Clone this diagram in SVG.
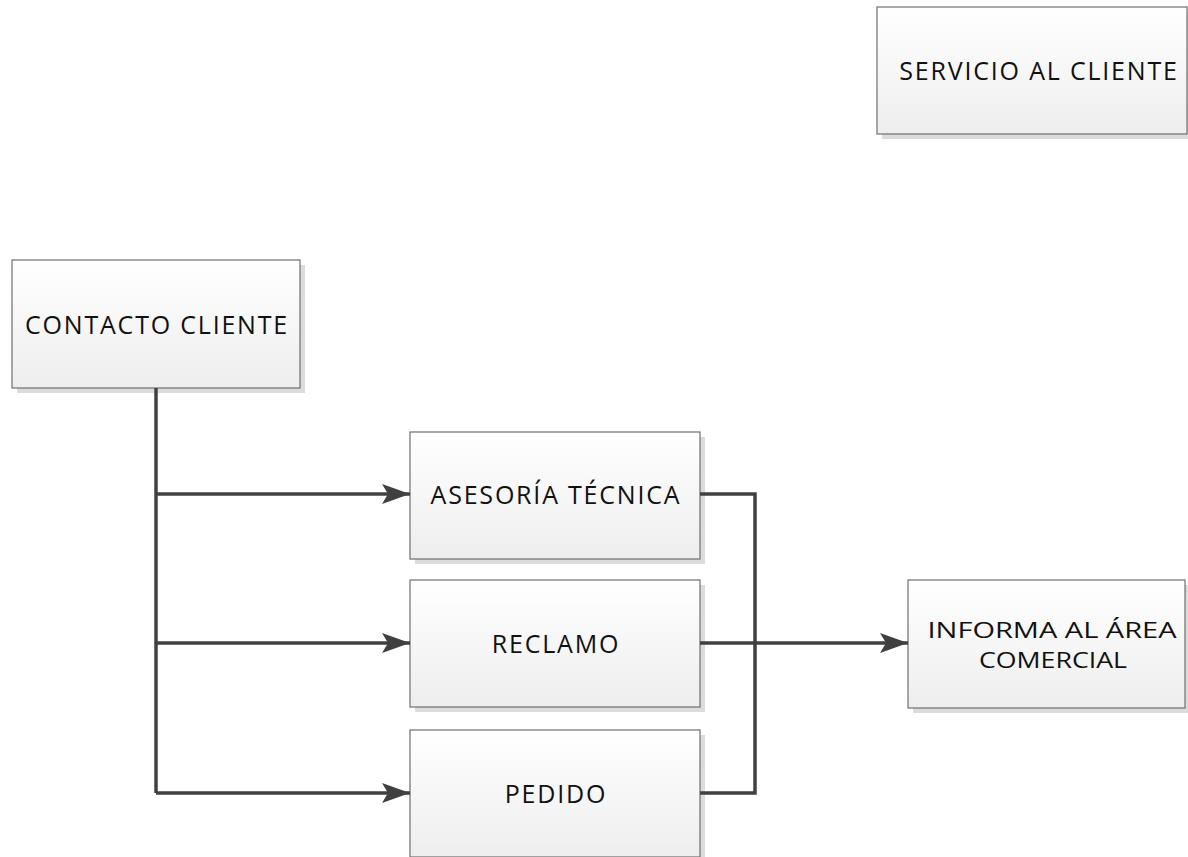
<svg xmlns="http://www.w3.org/2000/svg" width="1188" height="857" viewBox="0 0 1188 857">
<defs>
<linearGradient id="g" x1="0" y1="0" x2="0" y2="1">
<stop offset="0" stop-color="#ffffff"/>
<stop offset="1" stop-color="#eeeeee"/>
</linearGradient>
<marker id="arr" markerWidth="28" markerHeight="20" refX="28" refY="10" orient="auto" markerUnits="userSpaceOnUse">
<path d="M0,0 L28,10 L0,20 L6,10 Z" fill="#404040"/>
</marker>
</defs>
<style>
.sh{fill:#dcdcdc}
.bx{fill:url(#g);stroke:#6e6e6e;stroke-width:1.2}
.t{font-family:"Open Sans","Liberation Sans",sans-serif;font-size:25px;letter-spacing:1.8px;fill:#111;text-anchor:middle;dominant-baseline:central}
.t2{font-family:"Open Sans","Liberation Sans",sans-serif;font-size:22px;fill:#111;text-anchor:middle;dominant-baseline:central}
.c{fill:none;stroke:#404040;stroke-width:3.5}
</style>
<rect width="1188" height="857" fill="#ffffff"/>
<g id="servicio">
<rect class="sh" x="882" y="12" width="310" height="127"/>
<rect class="bx" x="877" y="7" width="310" height="127"/>
<text class="t" x="1039" y="70">SERVICIO AL CLIENTE</text>
</g>
<g id="contacto">
<rect class="sh" x="17" y="265" width="288" height="128"/>
<rect class="bx" x="12" y="260" width="288" height="128"/>
<text class="t" x="157" y="324">CONTACTO CLIENTE</text>
</g>
<g id="asesoria">
<rect class="sh" x="415" y="437" width="290" height="127"/>
<rect class="bx" x="410" y="432" width="290" height="127"/>
<text class="t" x="556" y="494">ASESORÍA TÉCNICA</text>
</g>
<g id="reclamo">
<rect class="sh" x="415" y="585" width="290" height="127"/>
<rect class="bx" x="410" y="580" width="290" height="127"/>
<text class="t" x="556" y="643">RECLAMO</text>
</g>
<g id="pedido">
<rect class="sh" x="415" y="735" width="290" height="127"/>
<rect class="bx" x="410" y="730" width="290" height="127"/>
<text class="t" x="556" y="793">PEDIDO</text>
</g>
<g id="informa">
<rect class="sh" x="913" y="585" width="277" height="128"/>
<rect class="bx" x="908" y="580" width="277" height="128"/>
<text class="t2" x="1052" y="629" textLength="249" lengthAdjust="spacingAndGlyphs">INFORMA AL ÁREA</text>
<text class="t2" x="1053" y="659" textLength="148" lengthAdjust="spacingAndGlyphs">COMERCIAL</text>
</g>
<g id="connectors">
<path class="c" d="M156,388 V793"/>
<path class="c" d="M156,494 H410" marker-end="url(#arr)"/>
<path class="c" d="M156,643 H410" marker-end="url(#arr)"/>
<path class="c" d="M156,793 H410" marker-end="url(#arr)"/>
<path class="c" d="M700,494 H755 V793 H700"/>
<path class="c" d="M700,643 H908" marker-end="url(#arr)"/>
</g>
</svg>
